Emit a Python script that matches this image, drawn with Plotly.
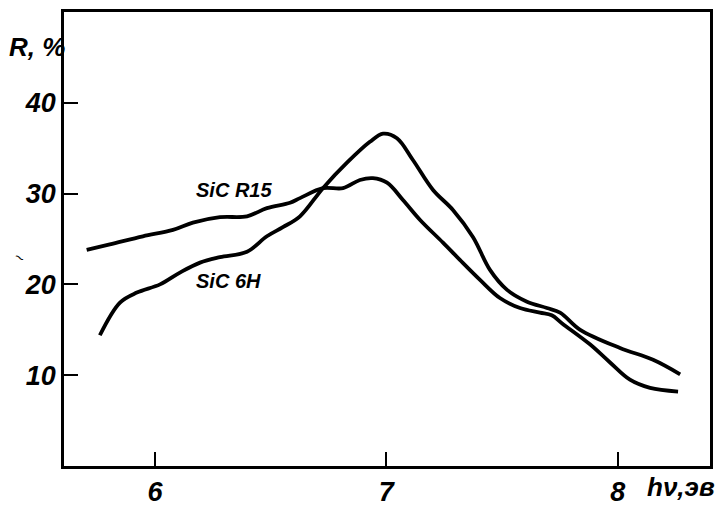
import plotly.graph_objects as go

# Data (photon energy hv, eV ; reflectance R, %)
r15_x = [5.705, 5.805, 5.948, 6.078, 6.164, 6.281, 6.398, 6.484, 6.584, 6.627, 6.726,
         6.813, 6.886, 6.942, 7.003, 7.072, 7.146, 7.245, 7.318, 7.405, 7.491, 7.578,
         7.664, 7.715, 7.760, 7.880, 7.967, 8.053, 8.140, 8.261]
r15_y = [23.8, 24.4, 25.3, 26.0, 26.8, 27.4, 27.5, 28.4, 29.0, 29.5, 30.6,
         30.6, 31.5, 31.7, 31.2, 29.3, 27.1, 24.6, 22.7, 20.5, 18.5, 17.4,
         16.9, 16.6, 15.7, 13.4, 11.4, 9.5, 8.6, 8.2]

h6_x = [5.762, 5.849, 5.922, 6.022, 6.108, 6.195, 6.281, 6.398, 6.484, 6.553, 6.627,
        6.726, 6.830, 6.929, 6.986, 7.046, 7.115, 7.202, 7.288, 7.375, 7.448, 7.522,
        7.608, 7.694, 7.751, 7.838, 8.010, 8.153, 8.270]
h6_y = [14.4, 18.0, 19.1, 20.0, 21.3, 22.4, 23.0, 23.6, 25.3, 26.3, 27.5,
        30.6, 33.4, 35.7, 36.6, 36.1, 33.7, 30.4, 28.2, 25.2, 21.6, 19.4,
        18.1, 17.4, 16.9, 15.0, 13.0, 11.7, 10.1]

x_ticks = [6, 7, 8]
y_ticks = [10, 20, 30, 40]
series_labels = ["SiC R15", "SiC 6H"]

FONT = "Liberation Sans, Arial, sans-serif"

fig = go.Figure()
fig.add_trace(go.Scatter(x=r15_x, y=r15_y, mode="lines",
                         line=dict(color="black", width=3.8, shape="spline", smoothing=1.0),
                         name=series_labels[0], showlegend=False))
fig.add_trace(go.Scatter(x=h6_x, y=h6_y, mode="lines",
                         line=dict(color="black", width=3.8, shape="spline", smoothing=1.0),
                         name=series_labels[1], showlegend=False))

fig.add_annotation(x=6.34, y=30.4, text=series_labels[0], showarrow=False,
                   xanchor="center", yanchor="middle",
                   font=dict(family=FONT, size=20, color="black", style="italic", weight="bold"))
fig.add_annotation(x=6.316, y=20.4, text=series_labels[1], showarrow=False,
                   xanchor="center", yanchor="middle",
                   font=dict(family=FONT, size=20, color="black", style="italic", weight="bold"))

fig.add_annotation(xref="paper", yref="paper", x=-0.042, y=0.923, text="R, %", showarrow=False,
                   xanchor="center", yanchor="middle",
                   font=dict(family=FONT, size=26, color="black", style="italic", weight="bold"))
fig.add_annotation(xref="paper", yref="paper", x=0.955, y=-0.047, text="hν,эв", showarrow=False,
                   xanchor="center", yanchor="middle",
                   font=dict(family=FONT, size=26, color="black", style="italic", weight="bold"))
# small stray mark left of the axis in the original scan
fig.add_annotation(xref="paper", yref="paper", x=-0.069, y=0.46, text="~", showarrow=False,
                   xanchor="center", yanchor="middle", textangle=30,
                   font=dict(family=FONT, size=16, color="black"))

axis_common = dict(showgrid=False, zeroline=False, showline=True, linecolor="black",
                   linewidth=2.5, mirror=True, ticks="inside", tickcolor="black",
                   tickwidth=2, ticklen=14, automargin=False,
                   tickfont=dict(family=FONT, size=27, color="black", style="italic", weight="bold"))

fig.update_xaxes(range=[5.607, 8.399], tickvals=x_ticks, ticktext=[str(v) for v in x_ticks],
                 **axis_common)
fig.update_yaxes(range=[0, 50], tickvals=y_ticks, ticktext=[str(v) for v in y_ticks],
                 **axis_common)

fig.update_layout(width=718, height=506, margin=dict(l=64, r=8, t=12, b=40),
                  plot_bgcolor="white", paper_bgcolor="white")

fig.write_html("out.html", config={"displayModeBar": False},
               post_script="document.body.style.margin='0';document.body.style.overflow='hidden';")
